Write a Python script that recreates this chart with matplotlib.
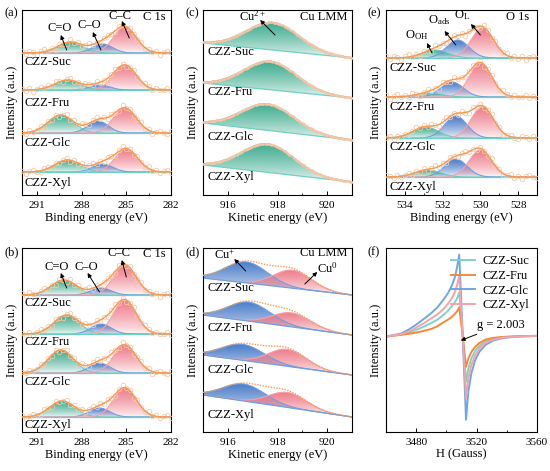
import numpy as np
import matplotlib
matplotlib.use("Agg")
import matplotlib.pyplot as plt
import matplotlib.colors as mcolors
from matplotlib.ticker import MultipleLocator

plt.rcParams.update({"font.family": "Liberation Serif", "font.size": 9,
                     "mathtext.fontset": "custom", "mathtext.rm": "Liberation Serif",
                     "mathtext.it": "Liberation Serif:italic", "axes.linewidth": 0.8})

samples = ["CZZ-Suc", "CZZ-Fru", "CZZ-Glc", "CZZ-Xyl"]

# ---- (a) C 1s : components [C=O, C-O, C-C]
a_base = [142, 105, 62, 23]
a_lab = [133, 92, 52, 12]
a_cen = [[288.75, 286.6, 285.1], [288.95, 286.8, 285.1], [289.4, 286.9, 285.1], [288.95, 286.6, 285.0]]
a_hgt = [[11, 9, 26], [10, 5, 25], [18, 12, 25], [12, 8, 23]]
# ---- (b) C 1s
b_base = [137, 98, 59, 15]
b_lab = [129, 90, 50, 7]
b_cen = [[289.2, 286.7, 285.1], [289.0, 286.7, 285.1], [289.4, 286.8, 285.1], [289.3, 286.8, 285.1]]
b_hgt = [[15, 7, 30], [19, 10, 34], [23, 10, 28], [16, 9, 29]]
c1s_fwhm = [2.0, 1.6, 1.8]
# ---- (c) Cu LMM : Cu2+
c_base_l = [152, 112, 72, 30]
c_base_r = [137, 97, 55, 13]
c_lab = [143, 103, 58, 18]
c_cen = [917.8, 917.7, 917.6, 917.6]
c_hgt = [27.5, 28.5, 26.5, 28.5]
c_fwhm = 2.5
# ---- (d) Cu LMM : [Cu+, Cu0]
d_base_l = [154, 117, 77, 37]
d_base_r = [137, 97, 57, 15]
d_lab = [144, 104, 62, 17]
d_cen = [[916.75, 918.6], [916.85, 918.55], [916.6, 918.4], [916.65, 918.4]]
d_hgt = [[21, 18], [19, 14], [16, 17], [17, 15]]
d_fwhm = [2.0, 1.8]
# ---- (e) O 1s : [O_OH, O_ads, O_L]
e_base = [137, 98, 57, 18]
e_lab = [127, 88, 48, 8]
e_cen = [[532.4, 531.2, 529.9], [532.7, 531.5, 530.0], [532.9, 531.3, 529.9], [532.8, 531.3, 530.0]]
e_hgt = [[8, 18, 30], [4, 15, 34], [11, 22, 31], [7, 18, 27]]
o1s_fwhm = [1.6, 1.4, 1.4]
# ---- (f) EPR
f_H = [3460, 3470, 3475, 3480, 3485, 3490, 3494, 3498, 3501, 3503.5, 3505.5, 3507, 3508.5,
       3510.8, 3513, 3514.5, 3516.5, 3519, 3522, 3526, 3531, 3538, 3548, 3560]
f_sig = {
    "CZZ-Suc": [-3, 3, 9, 17, 27, 38, 48, 62, 75, 88, 100, 112, 130,
                0, -140, -100, -70, -46, -30, -17, -9, -5, -2, -1],
    "CZZ-Fru": [-3, 2, 5, 9, 14, 20, 28, 40, 48, 56, 65, 73, 85,
                0, -95, -70, -50, -34, -22, -12, -7, -4, -2, -1],
    "CZZ-Glc": [-3, 6, 18, 33, 50, 68, 85, 108, 128, 150, 175, 205, 245,
                0, -255, -170, -115, -75, -48, -28, -15, -7, -3, -1],
    "CZZ-Xyl": [-3, 4, 12, 24, 37, 52, 64, 80, 96, 112, 130, 152, 180,
                0, -190, -130, -90, -60, -38, -22, -12, -6, -3, -1],
}
f_col = {"CZZ-Suc": "#7ed3c6", "CZZ-Fru": "#f7883a", "CZZ-Glc": "#6ea8e4", "CZZ-Xyl": "#f4a3ab"}
# scatter of the raw points around the fit
jitter = [1.6, -1.1, 2.3, 0.4, -1.9, 1.2, 2.6, -0.5, 0.8, -2.1, 1.8, 0.1, -1.3, 2.5, -0.4, 1.1, -1.7, 0.6,
          2.1, -0.9, 1.4, -2.3, 0.5, 1.9, -0.2, -1.5, 2.2, 0.9, -1.0, 1.7, -0.6, 0.3, 2.0, -1.4, 1.0, -0.8,
          1.5, -1.8, 0.7, 2.4, -0.3]

GREEN, GREEN_E = "#3eac8f", "#6fcab5"
BLUE, BLUE_E = "#4a7cc9", "#6e9fe0"
RED, RED_E = "#ee7d8b", "#f3a2aa"
ORANGE, RAW = "#f49b55", "#f8c9a8"
TEAL = "#6fcfc0"


def gauss(x, c, h, w):
    return h * np.exp(-4 * np.log(2) * (x - c) ** 2 / w ** 2)


def grad_fill(ax, x, lo, hi, color):
    poly = ax.fill_between(x, lo, hi, facecolor="none", edgecolor="none")
    img = np.ones((64, 1, 4))
    img[..., :3] = mcolors.to_rgb(color)
    img[:, 0, 3] = 0.06 + 0.94 * (1 - np.linspace(0, 1, 64)) ** 0.75
    im = ax.imshow(img, extent=[x.min(), x.max(), lo.min(), hi.max()], aspect="auto",
                   origin="upper", zorder=1, interpolation="bilinear")
    im.set_clip_path(poly.get_paths()[0], transform=ax.transData)


def spectrum(ax, x, base, cens, hgts, fws, fills, edges, bcol):
    env = base.copy()
    for c, h, w, fc, ec in zip(cens, hgts, fws, fills, edges):
        g = gauss(x, c, h, w)
        grad_fill(ax, x, base, base + g, fc)
        ax.plot(x, base + g, color=ec, lw=0.8, zorder=2)
        env = env + g
    ax.plot(x, base, color=bcol, lw=0.9, zorder=2)
    return env


def style(ax, xlim, major, minor, xlabel, tag):
    ax.set_xlim(*xlim)
    ax.set_xticks(major)
    ax.xaxis.set_minor_locator(MultipleLocator(minor))
    ax.set_yticks([])
    ax.tick_params(axis="x", which="major", direction="in", length=3, width=0.7, labelsize=8, pad=4)
    ax.tick_params(axis="x", which="minor", direction="in", length=1.8, width=0.6)
    ax.set_xlabel(xlabel, fontsize=9, labelpad=1.5)
    ax.set_ylabel("Intensity (a.u.)", fontsize=9, labelpad=3)
    ax.text(-0.12, 1.012, tag, transform=ax.transAxes, ha="left", va="top", fontsize=9)


def arrow(ax, head, tail):
    ax.annotate("", xy=head, xytext=tail,
                arrowprops=dict(arrowstyle="-|>", color="k", lw=0.7, mutation_scale=6, shrinkA=0, shrinkB=0),
                zorder=5)


fig = plt.figure(figsize=(5.5, 4.71), dpi=100)
W, H = 550, 471
cols = [(22, 149), (203, 149), (386, 151)]
rows = [(10, 185), (248, 184)]


def mkax(ci, ri):
    l, w = cols[ci]
    t, h = rows[ri]
    ax = fig.add_axes([l / W, (H - t - h) / H, w / W, h / H])
    ax.set_ylim(0, h)
    return ax


# ---- C 1s panels
for ri, (base_l, lab, cen, hgt, tag, notes) in enumerate([
        (a_base, a_lab, a_cen, a_hgt, "(a)",
         [("C=O", (289.5, 167), (289.4, 160), (289.0, 145)),
          ("C\u2013O", (287.5, 170), (287.25, 163), (286.7, 145)),
          ("C\u2013C", (285.4, 179), (285.3, 174), (284.8, 157))]),
        (b_base, b_lab, b_cen, b_hgt, "(b)",
         [("C=O", (289.7, 165), (289.4, 159), (289.0, 144)),
          ("C\u2013O", (287.7, 165), (287.6, 159), (286.8, 140)),
          ("C\u2013C", (285.5, 179), (285.3, 172), (285.0, 155))])]):
    ax = mkax(0, ri)
    x = np.linspace(292, 282, 400)
    xr = np.arange(292, 281.9, -0.25)
    for i, s in enumerate(samples):
        base = np.full_like(x, base_l[i], dtype=float)
        env = spectrum(ax, x, base, cen[i], hgt[i], c1s_fwhm, [GREEN, BLUE, RED], [GREEN_E, BLUE_E, RED_E], TEAL)
        yr = base_l[i] + sum(gauss(xr, c, h, w) for c, h, w in zip(cen[i], hgt[i], c1s_fwhm))
        yr = yr + np.roll(jitter, i * 7)[:len(xr)]
        ax.plot(xr, yr, "o", ms=3.2, mfc="none", mec=RAW, mew=0.6, zorder=3)
        ax.plot(x, env, color=ORANGE, lw=1.0, zorder=4)
        ax.text(291.8, lab[i], s, ha="left", va="center", fontsize=9)
    for txt, tp, hd, tl in notes:
        ax.text(*tp, txt, ha="center", va="center", fontsize=9, zorder=6)
        arrow(ax, hd, tl)
    ax.text(282.35, 178, "C 1s", ha="right", va="center", fontsize=9)
    style(ax, (292, 282), [291, 288, 285, 282], 1.5, "Binding energy (eV)", tag)

# ---- (c) Cu LMM
ax = mkax(1, 0)
x = np.linspace(915, 921, 400)
for i, s in enumerate(samples):
    base = np.linspace(c_base_l[i], c_base_r[i], x.size)
    env = spectrum(ax, x, base, [c_cen[i]], [c_hgt[i]], [c_fwhm], [GREEN], [GREEN_E], TEAL)
    ax.plot(x[::3], env[::3], ".", ms=1.6, color="#f6c4a6", zorder=4)
    ax.text(915.2, c_lab[i], s, ha="left", va="center", fontsize=9)
ax.text(917.0, 179, "Cu$^{2+}$", ha="center", va="center", fontsize=9)
arrow(ax, (917.3, 175), (917.9, 160))
ax.text(920.8, 178, "Cu LMM", ha="right", va="center", fontsize=9)
style(ax, (915, 921), [916, 918, 920], 1, "Kinetic energy (eV)", "(c)")

# ---- (d) Cu LMM
ax = mkax(1, 1)
for i, s in enumerate(samples):
    base = np.linspace(d_base_l[i], d_base_r[i], x.size)
    env = spectrum(ax, x, base, d_cen[i], d_hgt[i], d_fwhm, [BLUE, RED], [BLUE_E, RED_E], BLUE_E)
    ax.plot(x, env, ls=(0, (1, 1)), lw=1.0, color=ORANGE, zorder=4)
    ax.text(915.2, d_lab[i], s, ha="left", va="center", fontsize=9)
ax.text(915.87, 177, "Cu$^{+}$", ha="center", va="center", fontsize=9)
arrow(ax, (916.26, 173), (916.72, 161))
ax.text(920.0, 164, "Cu$^{0}$", ha="center", va="center", fontsize=9)
arrow(ax, (919.6, 160), (919.1, 148))
ax.text(920.8, 179, "Cu LMM", ha="right", va="center", fontsize=9)
style(ax, (915, 921), [916, 918, 920], 1, "Kinetic energy (eV)", "(d)")

# ---- (e) O 1s
ax = mkax(2, 0)
x = np.linspace(535, 527, 400)
xr = np.arange(535, 526.9, -0.2)
for i, s in enumerate(samples):
    base = np.full_like(x, e_base[i], dtype=float)
    env = spectrum(ax, x, base, e_cen[i], e_hgt[i], o1s_fwhm, [GREEN, BLUE, RED], [GREEN_E, BLUE_E, RED_E], TEAL)
    yr = e_base[i] + sum(gauss(xr, c, h, w) for c, h, w in zip(e_cen[i], e_hgt[i], o1s_fwhm))
    yr = yr + np.roll(jitter, i * 5)[:len(xr)]
    ax.plot(xr, yr, "o", ms=3.2, mfc="none", mec=RAW, mew=0.6, zorder=3)
    ax.plot(x, env, color=ORANGE, lw=1.0, zorder=4)
    ax.text(534.8, e_lab[i], s, ha="left", va="center", fontsize=9)
ax.text(533.36, 160, r"O$_{\rm OH}$", ha="center", va="center", fontsize=9)
arrow(ax, (532.83, 152), (532.56, 142))
ax.text(532.2, 175, r"O$_{\rm ads}$", ha="center", va="center", fontsize=9)
arrow(ax, (531.9, 164), (531.3, 150))
ax.text(530.95, 180, r"O$_{\rm L}$", ha="center", va="center", fontsize=9)
arrow(ax, (530.5, 171), (530.0, 160))
ax.text(527.4, 178, "O 1s", ha="right", va="center", fontsize=9)
style(ax, (535, 527), [534, 532, 530, 528], 1, "Binding energy (eV)", "(e)")

# ---- (f) EPR
ax = mkax(2, 1)
for s in samples:
    ax.plot(f_H, f_sig[s], color=f_col[s], lw=1.4, label=s)
ax.set_ylim(-292, 265)
ax.legend(loc="upper right", frameon=False, fontsize=9, handlelength=1.9, handletextpad=0.6,
          labelspacing=0.2, borderaxespad=0.2)
ax.annotate("g = 2.003", xy=(3509.5, -15), xytext=(3520, 32), ha="left", va="center", fontsize=9,
            arrowprops=dict(arrowstyle="-|>", color="k", lw=0.7, mutation_scale=6, shrinkA=1, shrinkB=0))
style(ax, (3460, 3560), [3480, 3520, 3560], 20, "H (Gauss)", "(f)")

fig.savefig("out.png", dpi=100)
